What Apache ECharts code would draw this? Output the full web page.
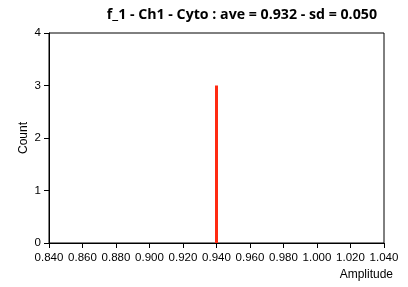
<!DOCTYPE html>
<html><head><meta charset="utf-8">
<script src="https://cdn.jsdelivr.net/npm/echarts@6/dist/echarts.min.js"></script>
<style>html,body{margin:0;padding:0;background:#fff}#c{width:408px;height:287px}</style>
</head><body><div id="c"></div>
<script>
const titleText = "f_1 - Ch1 - Cyto : ave = 0.932 - sd = 0.050";
const binCenters = [0.940];
const counts = [3];
const xName = "Amplitude";
const yName = "Count";

const chart = echarts.init(document.getElementById('c'), null, {renderer:'canvas'});
const font = '"Liberation Sans", Arial, sans-serif';
chart.setOption({
  animation:false,
  title:{text:titleText, right:26, top:3, textStyle:{fontFamily:'"Open Sans", sans-serif', fontWeight:'bold', fontSize:14.2, color:'#000'}},
  grid:{left:49, right:24, top:33, bottom:44, show:true, borderColor:'#000', borderWidth:1, backgroundColor:'#fff'},
  xAxis:{type:'value', min:0.84, max:1.04, interval:0.02,
    name:xName, nameLocation:'end', nameGap:9,
    nameTextStyle:{fontFamily:font, fontSize:12, color:'#000', align:'right', verticalAlign:'top', padding:[26,0,0,0]},
    axisLine:{onZero:false, lineStyle:{color:'#000', width:1}},
    axisTick:{show:true, length:5, lineStyle:{color:'#000'}},
    axisLabel:{fontFamily:font, fontSize:11.5, color:'#000', margin:9, formatter:v=>v.toFixed(3)},
    splitLine:{show:false}},
  yAxis:{type:'value', min:0, max:4, interval:1,
    name:yName, nameLocation:'middle', nameGap:19, nameRotate:90, nameMoveOverlap:false,
    nameTextStyle:{fontFamily:font, fontSize:12, color:'#000'},
    axisLine:{show:true, lineStyle:{color:'#000'}},
    axisTick:{show:true, length:5, lineStyle:{color:'#000'}},
    axisLabel:{fontFamily:font, fontSize:11.5, color:'#000', margin:8},
    splitLine:{show:false}},
  series:[{type:'bar', data:binCenters.map((x,i)=>[x,counts[i]]), barWidth:3,
    itemStyle:{color:'#ff2a12'}}]
});
</script></body></html>
